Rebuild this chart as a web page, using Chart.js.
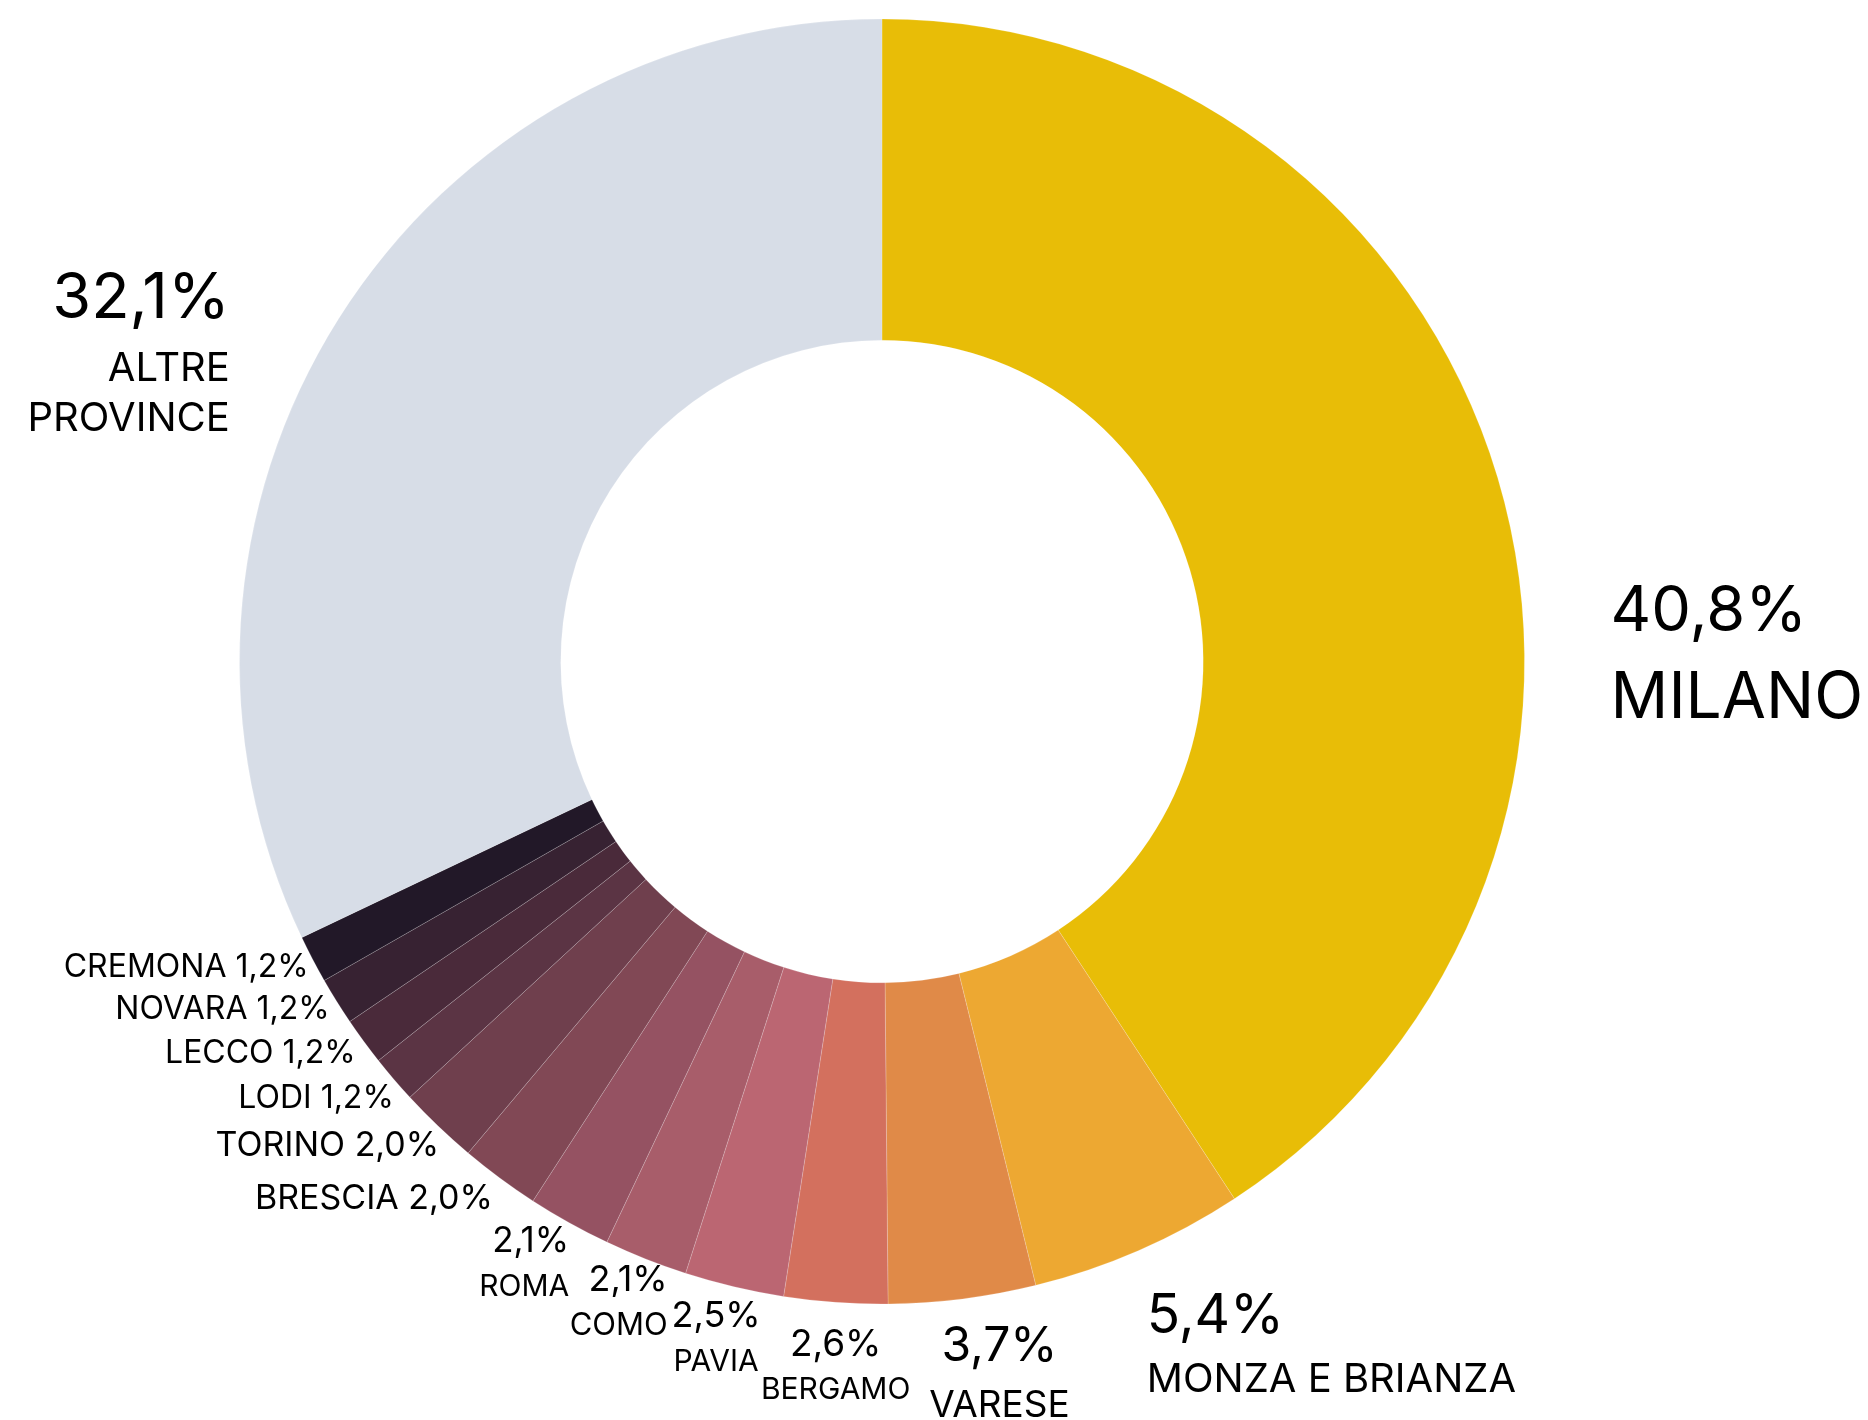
<!DOCTYPE html>
<html>
<head>
<meta charset="utf-8">
<script src="https://cdn.jsdelivr.net/npm/chart.js@4.4.1/dist/chart.umd.min.js"></script>
<style>
  html, body { margin: 0; padding: 0; background: #fff; }
  #wrap { width: 1868px; height: 1420px; position: relative; }
</style>
</head>
<body>
<div id="wrap"><canvas id="province-chart"></canvas></div>
<script>
const provinces = [
  "MILANO",
  "MONZA E BRIANZA",
  "VARESE",
  "BERGAMO",
  "PAVIA",
  "COMO",
  "ROMA",
  "BRESCIA",
  "TORINO",
  "LODI",
  "LECCO",
  "NOVARA",
  "CREMONA",
  ["ALTRE", "PROVINCE"],
];
const shares = [40.8, 5.4, 3.7, 2.6, 2.5, 2.1, 2.1, 2.0, 2.0, 1.2, 1.2, 1.2, 1.2, 32.1];

const sliceColors = [
  "#e8bd07",
  "#eda832",
  "#e08a48",
  "#d3705e",
  "#bb6672",
  "#a85d6a",
  "#955262",
  "#814855",
  "#6f3f4d",
  "#5b3444",
  "#4a2a3a",
  "#372232",
  "#221828",
  "#d7dde7",
];

// label placement relative to each slice's outer mid point: [kind, font px, dy]
const labelLayout = [
  { align: "left", dx: 113, lines: [["pct", 63, 153], ["name", 64, 240]] },
  { align: "left", dx: 8, lines: [["pct", 55, 83], ["name", 40, 142]] },
  { align: "center", dx: 37, lines: [["pct", 48, 62], ["name", 37, 118]] },
  { align: "center", dx: 0, lines: [["pct", 37, 54], ["name", 30, 97]] },
  { align: "center", dx: -18, lines: [["pct", 36, 40], ["name", 30, 84]] },
  { align: "right", dx: 22, lines: [["pct", 36, 32], ["name", 31, 76]] },
  { align: "right", dx: 0, lines: [["pct", 35, 29], ["name", 30, 73]] },
  { align: "right", dx: -7, lines: [["both", 34, 31]] },
  { align: "right", dx: 1, lines: [["both", 34, 30]] },
  { align: "right", dx: 0, lines: [["both", 32, 29]] },
  { align: "right", dx: -8, lines: [["both", 32, 22]] },
  { align: "right", dx: -7, lines: [["both", 32, 18]] },
  { align: "right", dx: -4, lines: [["both", 32, 18]] },
  { align: "right", dx: -109, lines: [["pct", 63, 0], ["name0", 40, 63], ["name1", 40, 113]] },
];

function pctText(v) {
  return v.toFixed(1).replace(".", ",") + "%";
}

function lineText(i, kind) {
  const name = provinces[i];
  const pct = pctText(shares[i]);
  if (kind === "pct") return pct;
  if (kind === "name") return Array.isArray(name) ? name.join(" ") : name;
  if (kind === "name0") return name[0];
  if (kind === "name1") return name[1];
  return (Array.isArray(name) ? name.join(" ") : name) + " " + pct;
}

const sliceLabels = {
  id: "sliceLabels",
  afterDatasetsDraw(chart) {
    const ctx = chart.ctx;
    const meta = chart.getDatasetMeta(0);
    ctx.save();
    ctx.fillStyle = "#000";
    ctx.textBaseline = "alphabetic";
    meta.data.forEach((arc, i) => {
      const p = arc.getProps(["x", "y", "startAngle", "endAngle", "outerRadius"], true);
      const mid = (p.startAngle + p.endAngle) / 2;
      const ax = p.x + Math.cos(mid) * p.outerRadius + labelLayout[i].dx;
      const ay = p.y + Math.sin(mid) * p.outerRadius;
      ctx.textAlign = labelLayout[i].align;
      labelLayout[i].lines.forEach(([kind, size, dy]) => {
        ctx.font = size + "px Inter";
        ctx.fillText(lineText(i, kind), ax, ay + dy);
      });
    });
    ctx.restore();
  },
};

const provinceCtx = document.getElementById("province-chart");

let provinceChart = new Chart(provinceCtx, {
  type: "doughnut",
  plugins: [sliceLabels],
  data: {
    labels: provinces,
    datasets: [
      {
        data: shares,
        backgroundColor: sliceColors,
        borderColor: "rgba(255,255,255,0.18)",
        borderWidth: 1,
        hoverOffset: 0,
      },
    ],
  },
  options: {
    responsive: true,
    maintainAspectRatio: false,
    animation: false,
    events: [],
    cutout: "50%",
    layout: {
      padding: { top: 18, bottom: 115, left: 239, right: 343 },
    },
    plugins: {
      legend: { display: false },
      tooltip: { enabled: false },
    },
  },
});
</script>
</body>
</html>
